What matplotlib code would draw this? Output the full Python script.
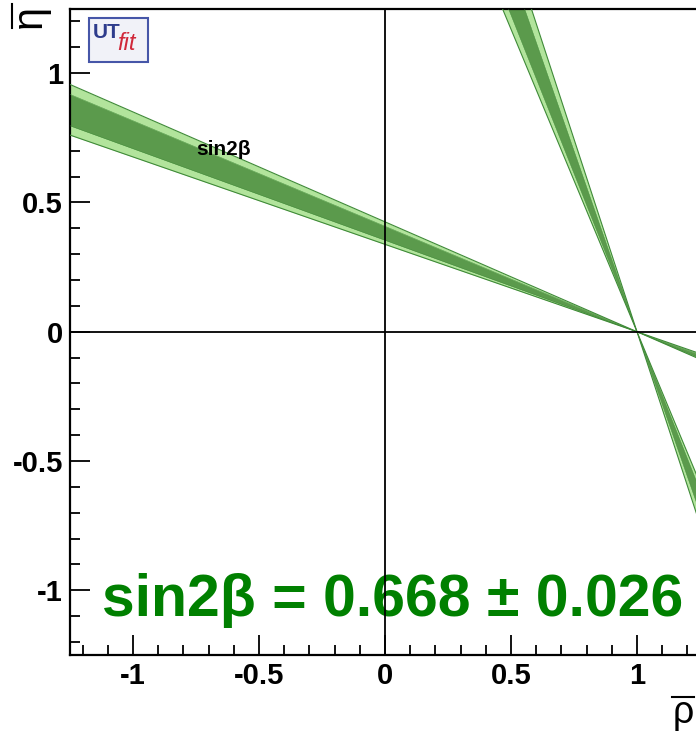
import numpy as np
import matplotlib.pyplot as plt
from matplotlib.patches import Rectangle
from matplotlib.lines import Line2D

plt.rcParams['font.family'] = ['Liberation Sans', 'DejaVu Sans']

# sin2beta constraint: tan(beta) edges of the bands (95% outer, 68% inner)
tanb_95 = [0.338, 0.425]
tanb_68 = [0.354, 0.408]
# second solution (beta' = 90 - beta)
tanb2_95 = [2.34, 2.98]
tanb2_68 = [2.45, 2.80]
rho_apex = 1.0

xlim = (-1.25, 1.25)
ylim = (-1.25, 1.25)
ticks = [-1, -0.5, 0, 0.5, 1]
tick_labels = ['-1', '-0.5', '0', '0.5', '1']
result_text = 'sin2\u03b2 = 0.668 \u00b1 0.026'

W, H = 696, 736
fig = plt.figure(figsize=(W / 100, H / 100), dpi=100)
ax = fig.add_axes([70 / W, 1 - 655 / H, 630 / W, 646.5 / H])

light = '#b2e49c'
dark = '#5b9a4c'
edge = '#3f8a38'

rho = np.linspace(-1.3, 1.3, 261)


def band(ks, color, lw):
    lo = ks[0] * (rho_apex - rho)
    hi = ks[1] * (rho_apex - rho)
    ax.fill_between(rho, lo, hi, color=color, lw=0, zorder=2)
    ax.plot(rho, lo, color=edge, lw=lw, zorder=3)
    ax.plot(rho, hi, color=edge, lw=lw, zorder=3)


for a, b in [(tanb_95, tanb_68), (tanb2_95, tanb2_68)]:
    band(a, light, 0.8)
    band(b, dark, 0.3)

ax.axhline(0, color='black', lw=1.3, zorder=4)
ax.axvline(0, color='black', lw=1.3, zorder=4)

ax.set_xlim(*xlim)
ax.set_ylim(*ylim)
ax.set_xticks(ticks)
ax.set_xticklabels(tick_labels)
ax.set_yticks(ticks)
ax.set_yticklabels(tick_labels)
ax.set_xticks(np.arange(-1.2, 1.25, 0.1), minor=True)
ax.set_yticks(np.arange(-1.2, 1.25, 0.1), minor=True)
ax.tick_params(which='both', direction='in', width=1.3, color='black')
ax.tick_params(which='major', length=14.5, labelsize=21, pad=5)
ax.tick_params(which='minor', length=7)
for lab in ax.get_xticklabels() + ax.get_yticklabels():
    lab.set_fontweight('bold')
for s in ['left', 'bottom', 'top']:
    ax.spines[s].set_linewidth(1.6)
ax.spines['right'].set_visible(False)

ax.text(-0.64, 0.705, 'sin2\u03b2', fontsize=15, fontweight='bold',
        ha='center', va='center', zorder=5)
ax.text(0.03, -1.04, result_text, fontsize=42.5, fontweight='bold',
        color='#008000', ha='center', va='center', zorder=3)

# axis titles with overbars
fig.text(683 / W, 1 - 713 / H, '\u03c1', fontsize=27,
         ha='center', va='center')
fig.add_artist(Line2D([672 / W, 694 / W], [1 - 697 / H, 1 - 697 / H],
                      color='black', lw=1.5))
fig.text(30 / W, 1 - 16 / H, '\u03b7', fontsize=30,
         ha='center', va='center', rotation=90)
fig.add_artist(Line2D([12 / W, 12 / W], [1 - 4 / H, 1 - 28 / H],
                      color='black', lw=1.5))

# UTfit logo
lx0, ly0, lx1, ly1 = 89, 18, 148, 62
fig.patches.append(Rectangle((lx0 / W, 1 - ly1 / H), (lx1 - lx0) / W,
                             (ly1 - ly0) / H, transform=fig.transFigure,
                             facecolor='#f1f2f8', edgecolor='#4656a8',
                             lw=1.5, zorder=10))
fig.text(93 / W, 1 - 33 / H, 'UT', fontsize=15, fontweight='bold',
         color='#2e3c8c', ha='left', va='center', zorder=11)
fig.text(117 / W, 1 - 44 / H, 'fit', fontsize=17, style='italic',
         color='#d0283a', ha='left', va='center', zorder=11)

fig.savefig('out.png', dpi=100)
